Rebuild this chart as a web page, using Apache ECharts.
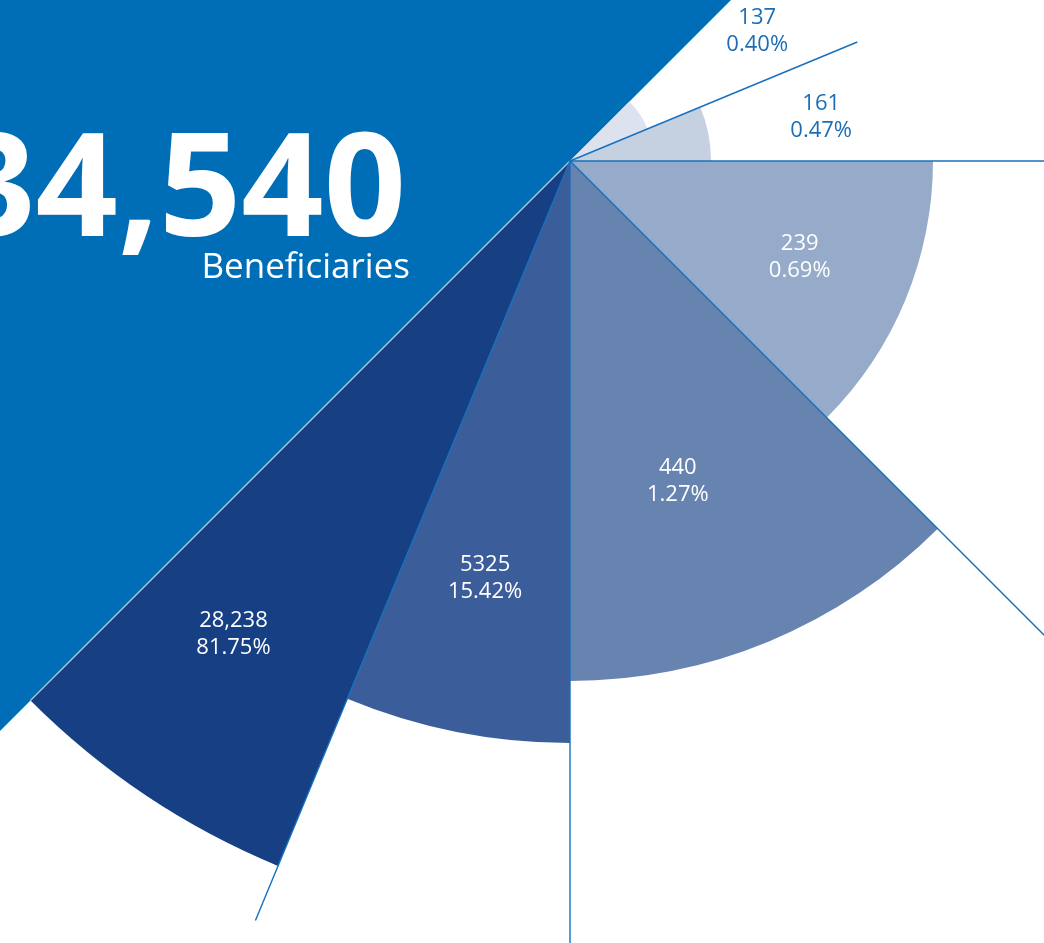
<!DOCTYPE html>
<html>
<head>
<meta charset="utf-8">
<script src="https://cdn.jsdelivr.net/npm/echarts@6/dist/echarts.min.js"></script>
<style>
html,body{margin:0;padding:0;background:#ffffff;}
#chart{width:1044px;height:943px;}
</style>
</head>
<body>
<div id="chart"></div>
<script>
// ---- data ----
const countLabels = ['28,238', '5325', '440', '239', '161', '137'];
const counts = [28238, 5325, 440, 239, 161, 137];
const shareLabels = ['81.75%', '15.42%', '1.27%', '0.69%', '0.47%', '0.40%'];
// petal length on the radius axis
const petalRadius = [763, 582, 520, 363, 141, 84];
// angular span of each petal on the angle axis (degrees)
const angleFrom = [225, 247.5, 270, 315, 0, 22.5];
const angleTo = [247.5, 270, 315, 360, 22.5, 45];
const totalBeneficiaries = 34540;
const totalCaption = 'Beneficiaries';
// backdrop half-disc behind the headline
const backdropRadius = [1000];
const backdropFrom = [45];
const backdropTo = [225];

// ---- styling / layout ----
const petalColors = ['#163F84', '#3B5E9A', '#6784B0', '#96AAC9', '#C5D0E1', '#DDE3EE'];
const labelColors = ['#ffffff', '#ffffff', '#ffffff', '#ffffff', '#1C6DB6', '#1C6DB6'];
const leaderLength = [763, 822, 900, 900, 900, 311];
const leaderColors = ['rgba(255,255,255,0.6)', '#1670BE', '#1670BE', '#1670BE', '#1670BE', '#1670BE'];
const labelRadius = [581, 426, 338, 249, 255, 228];
const labelAngle = [234.6, 258.5, 288.6, 337.3, 9.9, 34.8];
const backdropColor = '#006EB7';
const FONT = '"Open Sans", "Noto Sans", sans-serif';

const chart = echarts.init(document.getElementById('chart'), null, {renderer: 'canvas'});

function sectorFrom(params, api, r, a0, a1) {
  const cs = params.coordSys;
  const p0 = api.coord([r, a0]);
  const p1 = api.coord([r, a1]);
  const rPx = Math.hypot(p0[0] - cs.cx, p0[1] - cs.cy);
  let sa = Math.atan2(p1[1] - cs.cy, p1[0] - cs.cx);
  let ea = Math.atan2(p0[1] - cs.cy, p0[0] - cs.cx);
  if (ea <= sa) ea += Math.PI * 2;
  return {cx: cs.cx, cy: cs.cy, r0: 0, r: rPx, startAngle: sa, endAngle: ea, clockwise: true};
}

const petalData = counts.map((c, i) => [petalRadius[i], angleFrom[i], angleTo[i], c]);
const backdropData = backdropRadius.map((r, i) => [r, backdropFrom[i], backdropTo[i]]);

const option = {
  animation: false,
  backgroundColor: '#ffffff',
  polar: {center: [570, 161], radius: 1000},
  angleAxis: {
    type: 'value', min: 0, max: 360, startAngle: 0, clockwise: false,
    axisLine: {show: false}, axisTick: {show: false}, axisLabel: {show: false}, splitLine: {show: false}
  },
  radiusAxis: {
    type: 'value', min: 0, max: 1000,
    axisLine: {show: false}, axisTick: {show: false}, axisLabel: {show: false}, splitLine: {show: false}
  },
  series: [
    {
      type: 'custom',
      coordinateSystem: 'polar',
      data: backdropData,
      z: 1,
      renderItem: function (params, api) {
        return {
          type: 'sector',
          shape: sectorFrom(params, api, api.value(0), api.value(1), api.value(2)),
          style: {fill: backdropColor}
        };
      }
    },
    {
      type: 'custom',
      coordinateSystem: 'polar',
      data: petalData,
      z: 2,
      renderItem: function (params, api) {
        const i = params.dataIndex;
        const r = api.value(0), a0 = api.value(1), a1 = api.value(2);
        const c0 = api.coord([0, a0]);
        const c1 = api.coord([leaderLength[i], a0]);
        const lp = api.coord([labelRadius[i], labelAngle[i]]);
        return {
          type: 'group',
          children: [
            {
              type: 'sector',
              shape: sectorFrom(params, api, r, a0, a1),
              style: {fill: petalColors[i]},
              z2: 1
            },
            {
              type: 'line',
              shape: {x1: c0[0], y1: c0[1], x2: c1[0], y2: c1[1]},
              style: {stroke: leaderColors[i], lineWidth: 1.4},
              z2: 10
            },
            {
              type: 'text',
              x: lp[0], y: lp[1],
              style: {
                text: countLabels[i] + '\n' + shareLabels[i],
                fill: labelColors[i],
                fontSize: 22,
                fontFamily: FONT,
                lineHeight: 27,
                align: 'center',
                verticalAlign: 'middle'
              },
              z2: 20
            }
          ]
        };
      }
    }
  ],
  graphic: [
    {
      type: 'text',
      x: 406, y: 195,
      z: 10,
      style: {
        text: totalBeneficiaries.toLocaleString('en-US'),
        fill: '#ffffff',
        fontSize: 144,
        fontWeight: 'bold',
        fontFamily: FONT,
        align: 'right',
        verticalAlign: 'middle'
      }
    },
    {
      type: 'text',
      x: 410, y: 268,
      z: 10,
      style: {
        text: totalCaption,
        fill: '#ffffff',
        fontSize: 35,
        fontFamily: FONT,
        align: 'right',
        verticalAlign: 'middle'
      }
    }
  ]
};

chart.setOption(option);
</script>
</body>
</html>
